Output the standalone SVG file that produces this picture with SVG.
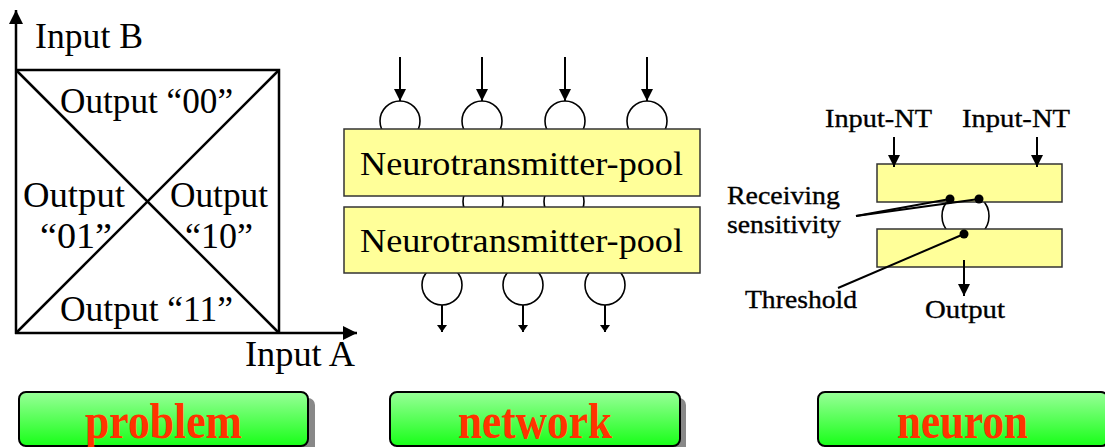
<svg xmlns="http://www.w3.org/2000/svg" width="1105" height="447" viewBox="0 0 1105 447">
  <style>
    text { font-family: "Liberation Serif", "Times New Roman", serif; fill: #000; }
    .lbl { font-size: 35px; }
    .pool { font-size: 34px; }
    .small { font-size: 26px; stroke: #000; stroke-width: 0.35; }
    .btn-text { font-size: 50px; font-weight: bold; fill: #ff3300; text-anchor: middle; }
    .axis { stroke: #000; stroke-width: 2.5; fill: none; }
    .ring { stroke: #000; stroke-width: 1.6; fill: #fff; }
    .box { stroke: #333; stroke-width: 1.5; fill: #ffff99; }
    .wire { stroke: #000; stroke-width: 2; fill: none; }
    .btn { fill: url(#green); stroke: #000; stroke-width: 2; }
    .shadow { fill: #888; }
  </style>
  <defs>
    <linearGradient id="green" x1="0" y1="0" x2="0" y2="1">
      <stop offset="0" stop-color="#98ff98"/>
      <stop offset="1" stop-color="#18ff18"/>
    </linearGradient>
    <marker id="head" viewBox="0 0 12 12" refX="12" refY="6" markerWidth="12" markerHeight="12" markerUnits="userSpaceOnUse" orient="auto">
      <path d="M0,0 L12,6 L0,12 Z" fill="#000"/>
    </marker>
    <marker id="headSmall" viewBox="0 0 7 10" refX="7" refY="5" markerWidth="7" markerHeight="10" markerUnits="userSpaceOnUse" orient="auto">
      <path d="M0,0 L7,5 L0,10 Z" fill="#000"/>
    </marker>
    <marker id="headAxis" viewBox="0 0 14 14" refX="14" refY="7" markerWidth="14" markerHeight="14" markerUnits="userSpaceOnUse" orient="auto">
      <path d="M0,0 L14,7 L0,14 Z" fill="#000"/>
    </marker>
  </defs>

  <!-- Problem: input plane split into four output regions -->
  <g id="problem-plane">
    <line class="axis" x1="16" y1="334" x2="16" y2="10" marker-end="url(#headAxis)"/>
    <line class="axis" x1="15" y1="333" x2="357" y2="333" marker-end="url(#headAxis)"/>
    <polyline class="axis" points="16,70 279,70 279,333"/>
    <line class="axis" x1="16" y1="70" x2="279" y2="333"/>
    <line class="axis" x1="279" y1="70" x2="16" y2="333"/>
    <text class="lbl" x="35" y="48" textLength="108" lengthAdjust="spacingAndGlyphs">Input B</text>
    <text class="lbl" x="245" y="366" textLength="110" lengthAdjust="spacingAndGlyphs">Input A</text>
    <text class="lbl" x="60" y="113" textLength="173" lengthAdjust="spacingAndGlyphs">Output “00”</text>
    <text class="lbl" x="23" y="207" textLength="102" lengthAdjust="spacingAndGlyphs">Output</text>
    <text class="lbl" x="40" y="248" textLength="72" lengthAdjust="spacingAndGlyphs">“01”</text>
    <text class="lbl" x="170" y="207" textLength="98" lengthAdjust="spacingAndGlyphs">Output</text>
    <text class="lbl" x="185" y="248" textLength="68" lengthAdjust="spacingAndGlyphs">“10”</text>
    <text class="lbl" x="60" y="321" textLength="173" lengthAdjust="spacingAndGlyphs">Output “11”</text>
  </g>

  <!-- Network: two neurotransmitter pools with receptor rings -->
  <g id="network-rings">
    <circle class="ring" cx="400" cy="121" r="20"/>
    <circle class="ring" cx="482" cy="121" r="20"/>
    <circle class="ring" cx="565" cy="121" r="20"/>
    <circle class="ring" cx="647" cy="121" r="20"/>
    <circle class="ring" cx="483" cy="201.5" r="20"/>
    <circle class="ring" cx="564" cy="201.5" r="20"/>
    <circle class="ring" cx="442" cy="285" r="20"/>
    <circle class="ring" cx="523" cy="285" r="20"/>
    <circle class="ring" cx="605" cy="285" r="20"/>
  </g>
  <g id="pool-upper">
    <rect class="box" x="344" y="129" width="356" height="67"/>
    <text class="pool" x="360" y="175" textLength="323" lengthAdjust="spacingAndGlyphs">Neurotransmitter-pool</text>
  </g>
  <g id="pool-lower">
    <rect class="box" x="344" y="207" width="356" height="66"/>
    <text class="pool" x="360" y="252" textLength="323" lengthAdjust="spacingAndGlyphs">Neurotransmitter-pool</text>
  </g>

  <!-- Neuron: input pool, receptor ring and output pool -->
  <g id="neuron-ring">
    <circle class="ring" cx="965.5" cy="216" r="23.5"/>
  </g>
  <g id="neuron-upper">
    <rect class="box" x="877" y="164" width="185" height="38"/>
  </g>
  <g id="neuron-lower">
    <rect class="box" x="877" y="229" width="185" height="38"/>
  </g>
  <g id="neuron-labels">
    <text class="small" x="825" y="127" textLength="107" lengthAdjust="spacingAndGlyphs">Input-NT</text>
    <text class="small" x="962" y="127" textLength="108" lengthAdjust="spacingAndGlyphs">Input-NT</text>
    <text class="small" x="727" y="204" textLength="113" lengthAdjust="spacingAndGlyphs">Receiving</text>
    <text class="small" x="727" y="233" textLength="114" lengthAdjust="spacingAndGlyphs">sensitivity</text>
    <text class="small" x="745" y="308" textLength="112" lengthAdjust="spacingAndGlyphs">Threshold</text>
    <text class="small" x="925" y="318" textLength="80" lengthAdjust="spacingAndGlyphs">Output</text>
  </g>

  <!-- Connectors -->
  <g id="connectors">
    <line class="wire" x1="400" y1="57" x2="400" y2="101" marker-end="url(#head)"/>
    <line class="wire" x1="482" y1="57" x2="482" y2="101" marker-end="url(#head)"/>
    <line class="wire" x1="565" y1="57" x2="565" y2="101" marker-end="url(#head)"/>
    <line class="wire" x1="647" y1="57" x2="647" y2="101" marker-end="url(#head)"/>
    <line class="wire" x1="442" y1="305" x2="442" y2="332" marker-end="url(#headSmall)"/>
    <line class="wire" x1="523" y1="305" x2="523" y2="332" marker-end="url(#headSmall)"/>
    <line class="wire" x1="605" y1="305" x2="605" y2="332" marker-end="url(#headSmall)"/>
    <line class="wire" x1="894" y1="137" x2="894" y2="167" marker-end="url(#head)"/>
    <line class="wire" x1="1037" y1="137" x2="1037" y2="167" marker-end="url(#head)"/>
    <line class="wire" x1="964" y1="260" x2="964" y2="296" marker-end="url(#head)"/>
    <line class="wire" x1="856" y1="216" x2="950" y2="199"/>
    <line class="wire" x1="856" y1="216" x2="979" y2="199"/>
    <line class="wire" x1="838" y1="288" x2="964" y2="234"/>
    <circle cx="950" cy="199" r="4.5" fill="#000"/>
    <circle cx="979" cy="199" r="4.5" fill="#000"/>
    <circle cx="964" cy="234" r="4.5" fill="#000"/>
  </g>

  <!-- Panel captions -->
  <g id="btn-problem">
    <rect class="shadow" x="25" y="398" width="290" height="56" rx="7"/>
    <rect class="btn" x="19" y="392" width="289" height="54" rx="7"/>
    <text class="btn-text" x="163.5" y="438" textLength="157" lengthAdjust="spacingAndGlyphs">problem</text>
  </g>
  <g id="btn-network">
    <rect class="shadow" x="396" y="398" width="290" height="56" rx="7"/>
    <rect class="btn" x="390" y="392" width="290" height="54" rx="7"/>
    <text class="btn-text" x="535" y="438" textLength="154" lengthAdjust="spacingAndGlyphs">network</text>
  </g>
  <g id="btn-neuron">
    <rect class="shadow" x="824" y="398" width="290" height="56" rx="7"/>
    <rect class="btn" x="818" y="392" width="290" height="54" rx="7"/>
    <text class="btn-text" x="962.5" y="438" textLength="131" lengthAdjust="spacingAndGlyphs">neuron</text>
  </g>
</svg>
